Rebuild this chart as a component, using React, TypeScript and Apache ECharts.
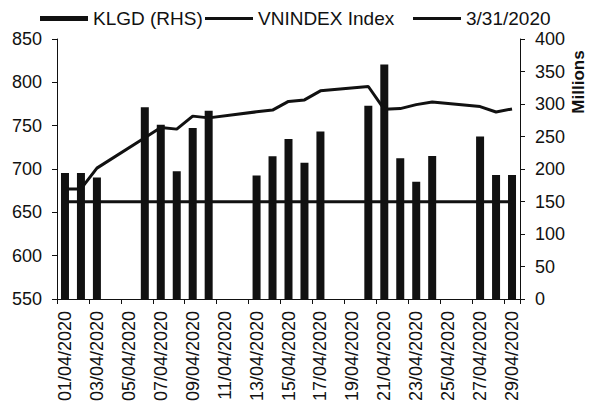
import React, { useEffect, useRef } from "react";
import * as echarts from "echarts";

const dates = [
  "01/04/2020", "02/04/2020", "03/04/2020", "04/04/2020", "05/04/2020",
  "06/04/2020", "07/04/2020", "08/04/2020", "09/04/2020", "10/04/2020",
  "11/04/2020", "12/04/2020", "13/04/2020", "14/04/2020", "15/04/2020",
  "16/04/2020", "17/04/2020", "18/04/2020", "19/04/2020", "20/04/2020",
  "21/04/2020", "22/04/2020", "23/04/2020", "24/04/2020", "25/04/2020",
  "26/04/2020", "27/04/2020", "28/04/2020", "29/04/2020",
];

// KLGD, millions (right axis)
const klgd = [
  193.8, 193.8, 187, null, null,
  294.9, 268, 196.4, 263, 289.7,
  null, null, 190, 219.5, 246.2,
  209.8, 257.7, null, null, 297.4,
  360.8, 216.5, 180.4, 220, null,
  null, 250, 190.7, 190.7,
];

// VNINDEX (left axis)
const vnindex = [
  677, 677, 701, null, null,
  736, 748, 746, 761, 759,
  null, null, 766, 768, 778,
  779.7, 790.2, null, null, 795.2,
  768.9, 769.7, 774.3, 777.4, null,
  null, 772, 765.8, 769.3,
];

// VNINDEX close on 3/31/2020
const ref3312020 = 662.26;
const refLine = dates.map(() => ref3312020);

const leftTicks = { min: 550, max: 850, interval: 50 };
const rightTicks = { min: 0, max: 400, interval: 50 };

const FONT = "'Liberation Sans', Arial, sans-serif";
const INK = "#111";

export default function App() {
  const ref = useRef<HTMLDivElement>(null);

  useEffect(() => {
    if (!ref.current) return;
    const chart = echarts.init(ref.current, undefined, { renderer: "svg" });
    const legendBase = {
      top: 4,
      itemWidth: 48,
      icon: "rect",
      selectedMode: false,
      textStyle: { fontSize: 19, color: INK, fontFamily: FONT, padding: [0, 0, 0, 0] },
    };
    chart.setOption({
      animation: false,
      backgroundColor: "#fff",
      textStyle: { fontFamily: FONT },
      legend: [
        { ...legendBase, data: ["KLGD (RHS)"], left: 35, itemHeight: 5 },
        { ...legendBase, data: ["VNINDEX Index"], left: 200, itemHeight: 3 },
        { ...legendBase, data: ["3/31/2020"], left: 408, itemHeight: 3 },
      ],
      grid: { left: 57, right: 70, top: 39, bottom: 111, containLabel: false, outerBoundsMode: "none" },
      xAxis: {
        type: "category",
        data: dates,
        boundaryGap: true,
        axisLine: { lineStyle: { color: INK, width: 1 } },
        axisTick: { show: true, interval: 1, length: 5, lineStyle: { color: INK } },
        axisLabel: {
          interval: 1,
          rotate: 90,
          margin: 12,
          fontSize: 18,
          color: INK,
          fontFamily: FONT,
        },
        splitLine: { show: false },
      },
      yAxis: [
        {
          type: "value",
          position: "left",
          ...leftTicks,
          axisLine: { show: true, lineStyle: { color: INK } },
          axisTick: { show: true, length: 5, lineStyle: { color: INK } },
          axisLabel: { margin: 15, fontSize: 18, color: INK, fontFamily: FONT },
          splitLine: { show: false },
        },
        {
          type: "value",
          position: "right",
          ...rightTicks,
          axisLine: { show: true, lineStyle: { color: INK } },
          axisTick: { show: true, length: 5, lineStyle: { color: INK } },
          axisLabel: { margin: 15, fontSize: 18, color: INK, fontFamily: FONT },
          splitLine: { show: false },
        },
      ],
      graphic: [
        {
          type: "text",
          x: 578,
          y: 82,
          rotation: Math.PI / 2,
          style: {
            text: "Millions",
            fontSize: 17,
            fontWeight: "bold",
            fontFamily: FONT,
            fill: INK,
            align: "center",
            verticalAlign: "middle",
          },
        },
      ],
      series: [
        {
          name: "KLGD (RHS)",
          type: "bar",
          yAxisIndex: 1,
          data: klgd,
          barWidth: 8,
          itemStyle: { color: INK },
        },
        {
          name: "VNINDEX Index",
          type: "line",
          yAxisIndex: 0,
          data: vnindex,
          connectNulls: true,
          showSymbol: false,
          symbol: "none",
          itemStyle: { color: INK },
          lineStyle: { color: INK, width: 3 },
        },
        {
          name: "3/31/2020",
          type: "line",
          yAxisIndex: 0,
          data: refLine,
          showSymbol: false,
          symbol: "none",
          itemStyle: { color: INK },
          lineStyle: { color: INK, width: 3 },
        },
      ],
    });
    return () => chart.dispose();
  }, []);

  return (
    <div
      ref={ref}
      style={{ position: "fixed", left: 0, top: 0, width: 590, height: 410, background: "#fff" }}
    />
  );
}
